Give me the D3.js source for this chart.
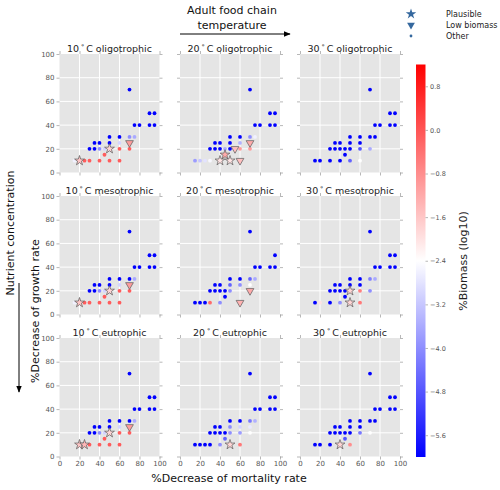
<!DOCTYPE html>
<html><head><meta charset="utf-8">
<script src="https://cdn.jsdelivr.net/npm/d3@7"></script>
<style>body{margin:0;background:#fff}svg{display:block;font-family:"DejaVu Sans",sans-serif}</style>
</head><body><svg id="c" width="500" height="490"></svg>
<script>
// ---------- data ----------
const temperatures = ["10", "20", "30"];
const nutrients = ["oligotrophic", "mesotrophic", "eutrophic"];
const axisTicks = [0, 20, 40, 60, 80, 100];
const colorTicks = [0.8, 0.0, -0.8, -1.6, -2.4, -3.2, -4.0, -4.8, -5.6];
const colorDomain = [-6, 1.2];
const legendLabels = ["Plausible", "Low biomass", "Other"];
// each point: [%decrease mortality, %decrease growth, log10 biomass, type] (o=other, s=plausible, t=low biomass)
const p10oligo = [[70,70,-6,"o"],[90,50,-6,"o"],[95,50,-6,"o"],[75,40,-6,"o"],[80,40,-6,"o"],[90,40,-6,"o"],[95,40,-6,"o"],
  [50,30,-6,"o"],[60,30,-6,"o"],[70,30,-4,"o"],[75,30,-3.6,"o"],[35,25,-6,"o"],[40,25,-6,"o"],[50,25,-6,"o"],[60,25,-3,"o"],
  [30,20,-6,"o"],[35,20,-6,"o"],[40,20,-4,"o"],[45,20,-3,"o"],[60,20,-0.1,"o"],[70,20,-0.1,"o"],[45,15,-0.1,"o"],
  [15,10,-2.6,"o"],[25,10,-0.1,"o"],[30,10,-0.1,"o"],[40,10,-0.1,"o"],[50,10,-0.1,"o"],[60,10,-0.1,"o"],
  [70,25,-1,"t"],[50,20,-1.8,"s"],[20,10,-1.6,"s"]];
const p20oligo = [[70,70,-6,"o"],[90,50,-6,"o"],[95,50,-6,"o"],[75,40,-6,"o"],[80,40,-6,"o"],[90,40,-6,"o"],[95,40,-6,"o"],
  [50,30,-6,"o"],[60,30,-6,"o"],[70,30,-4,"o"],[75,30,-2.6,"o"],[35,25,-6,"o"],[40,25,-6,"o"],[50,25,-6,"o"],[60,25,-3.5,"o"],
  [30,20,-6,"o"],[35,20,-6,"o"],[40,20,-6,"o"],[45,20,-3.6,"o"],[50,20,-6,"o"],[60,20,-1,"o"],[70,20,-1,"o"],
  [15,10,-3.8,"o"],[20,10,-3.2,"o"],[25,10,-2.8,"o"],[30,10,-2.5,"o"],
  [70,25,-1.2,"t"],[55,20,-1.5,"t"],[60,10,-1.5,"t"],[45,15,-1.2,"s"],[40,10,-2,"s"],[50,10,-2,"s"]];
const p30oligo = [[70,70,-6,"o"],[90,50,-6,"o"],[95,50,-6,"o"],[75,40,-6,"o"],[80,40,-6,"o"],[90,40,-6,"o"],[95,40,-6,"o"],
  [50,30,-6,"o"],[60,30,-6,"o"],[70,30,-6,"o"],[75,30,-6,"o"],[35,25,-6,"o"],[40,25,-6,"o"],[50,25,-6,"o"],[60,25,-6,"o"],
  [30,20,-6,"o"],[35,20,-6,"o"],[40,20,-6,"o"],[45,20,-6,"o"],[50,20,-6,"o"],[60,20,-4.8,"o"],[70,20,-3.6,"o"],[45,15,-6,"o"],
  [15,10,-6,"o"],[20,10,-6,"o"],[30,10,-6,"o"],[40,10,-6,"o"],[50,10,-4.6,"o"],[60,10,-2.4,"o"]];
const p10meso = [[70,70,-6,"o"],[90,50,-6,"o"],[95,50,-6,"o"],[75,40,-6,"o"],[80,40,-6,"o"],[90,40,-6,"o"],[95,40,-6,"o"],
  [50,30,-6,"o"],[60,30,-6,"o"],[70,30,-6,"o"],[75,30,-3.6,"o"],[35,25,-6,"o"],[40,25,-6,"o"],[50,25,-6,"o"],[60,25,-3,"o"],
  [30,20,-6,"o"],[35,20,-6,"o"],[40,20,-4,"o"],[45,20,-3,"o"],[60,20,-0.1,"o"],[70,20,-0.1,"o"],[45,15,-0.1,"o"],
  [15,10,-2.6,"o"],[25,10,-0.1,"o"],[30,10,-0.1,"o"],[40,10,-0.1,"o"],[50,10,-0.1,"o"],[60,10,-0.1,"o"],
  [70,25,-1,"t"],[50,20,-1.8,"s"],[20,10,-1.6,"s"]];
const p20meso = [[70,70,-6,"o"],[95,50,-6,"o"],[75,40,-6,"o"],[80,40,-6,"o"],[90,40,-6,"o"],[95,40,-6,"o"],
  [50,30,-6,"o"],[60,30,-6,"o"],[70,30,-4.6,"o"],[75,30,-3.6,"o"],[35,25,-6,"o"],[40,25,-6,"o"],[50,25,-4.6,"o"],[60,25,-4,"o"],[70,25,-2.4,"o"],
  [30,20,-6,"o"],[35,20,-6,"o"],[40,20,-6,"o"],[45,20,-6,"o"],[50,20,-4,"o"],[45,15,-6,"o"],
  [15,10,-6,"o"],[20,10,-6,"o"],[25,10,-6,"o"],[30,10,-0.3,"o"],[40,10,-4,"o"],
  [70,20,-1.2,"t"],[60,10,-1.3,"t"]];
const p30meso = [[70,70,-6,"o"],[90,50,-6,"o"],[95,50,-6,"o"],[75,40,-6,"o"],[80,40,-6,"o"],[90,40,-6,"o"],[95,40,-6,"o"],
  [50,30,-6,"o"],[60,30,-6,"o"],[70,30,-4.2,"o"],[75,30,-3.6,"o"],[35,25,-6,"o"],[40,25,-6,"o"],[50,25,-6,"o"],[60,25,-6,"o"],
  [30,20,-6,"o"],[35,20,-6,"o"],[40,20,-6,"o"],[45,20,-6,"o"],[60,20,-0.6,"o"],[70,20,-4,"o"],[45,15,-6,"o"],
  [15,10,-6,"o"],[20,10,-2,"o"],[30,10,-6,"o"],[40,10,-4,"o"],[60,10,-0.5,"o"],
  [50,20,-1.8,"s"],[50,10,-1.8,"s"]];
const p10eu = [[70,70,-6,"o"],[90,50,-6,"o"],[95,50,-6,"o"],[75,40,-6,"o"],[80,40,-6,"o"],[90,40,-6,"o"],[95,40,-6,"o"],
  [50,30,-6,"o"],[60,30,-6,"o"],[70,30,-6,"o"],[75,30,-3.6,"o"],[35,25,-6,"o"],[40,25,-6,"o"],[50,25,-6,"o"],[60,25,-3,"o"],
  [30,20,-6,"o"],[35,20,-6,"o"],[40,20,-4,"o"],[45,20,-3,"o"],[60,20,-0.1,"o"],[70,20,-0.1,"o"],[45,15,-0.1,"o"],
  [30,10,-0.1,"o"],[40,10,-0.1,"o"],[50,10,-0.1,"o"],[60,10,-0.1,"o"],
  [70,25,-1,"t"],[50,20,-1.8,"s"],[20,10,-1.6,"s"],[25,10,-1.4,"s"]];
const p20eu = [[70,70,-6,"o"],[90,50,-6,"o"],[95,50,-6,"o"],[75,40,-6,"o"],[80,40,-6,"o"],[90,40,-6,"o"],[95,40,-6,"o"],
  [50,30,-6,"o"],[60,30,-6,"o"],[70,30,-4.3,"o"],[75,30,-3.5,"o"],[35,25,-6,"o"],[40,25,-6,"o"],[50,25,-4,"o"],[60,25,-3,"o"],[70,25,-2.7,"o"],
  [30,20,-6,"o"],[35,20,-6,"o"],[40,20,-6,"o"],[45,20,-6,"o"],[50,20,-4,"o"],[60,20,-3.8,"o"],[70,20,-2.4,"o"],[45,15,-4.6,"o"],
  [15,10,-6,"o"],[20,10,-6,"o"],[25,10,-6,"o"],[30,10,-6,"o"],[40,10,-4,"o"],[60,10,-0.5,"o"],
  [50,10,-1.8,"s"]];
const p30eu = [[70,70,-6,"o"],[90,50,-6,"o"],[95,50,-6,"o"],[75,40,-6,"o"],[80,40,-6,"o"],[90,40,-6,"o"],[95,40,-6,"o"],
  [50,30,-6,"o"],[60,30,-6,"o"],[70,30,-6,"o"],[75,30,-6,"o"],[35,25,-6,"o"],[40,25,-6,"o"],[50,25,-6,"o"],[60,25,-6,"o"],
  [30,20,-6,"o"],[35,20,-6,"o"],[40,20,-6,"o"],[45,20,-6,"o"],[50,20,-6,"o"],[60,20,-4.3,"o"],[70,20,-2.4,"o"],[45,15,-4.8,"o"],
  [15,10,-6,"o"],[20,10,-6,"o"],[30,10,-6,"o"],[50,10,-0.8,"o"],
  [40,10,-1.8,"s"]];
const panelData = [[p10oligo, p20oligo, p30oligo], [p10meso, p20meso, p30meso], [p10eu, p20eu, p30eu]];

// ---------- layout ----------
const svg = d3.select("#c");
const colLeft = [59.5, 180, 300], pw = 100;
const rowTop = [54, 196, 338], ph = 118.5;
const bwr = d3.scaleLinear().domain([colorDomain[0], (colorDomain[0]+colorDomain[1])/2, colorDomain[1]])
  .range(["#0000ff", "#ffffff", "#ff0000"]).clamp(true);
const grey = "#555";

const defs = svg.append("defs");
defs.append("marker").attr("id","ah").attr("viewBox","0 0 10 10").attr("refX",9).attr("refY",5)
  .attr("markerWidth",7).attr("markerHeight",7).attr("orient","auto")
  .append("path").attr("d","M0,1 L10,5 L0,9 Z").attr("fill","#000");

const starPath = d3.symbol().type(d3.symbolStar).size(30)();
const triPath = d3.symbol().type(d3.symbolTriangle).size(26)();

panelData.forEach((row, r) => row.forEach((pts, c) => {
  const x = d3.scaleLinear().domain([0, 100]).range([colLeft[c], colLeft[c] + pw]);
  const y = d3.scaleLinear().domain([0, 100]).range([rowTop[r] + ph, rowTop[r]]);
  const g = svg.append("g");
  g.append("rect").attr("x", x(0)).attr("y", y(100)).attr("width", pw).attr("height", ph).attr("fill", "#e5e5e5");
  const inner = axisTicks.filter(t => t > 0 && t < 100);
  g.selectAll(".gx").data(inner).join("line").attr("x1", d => x(d)).attr("x2", d => x(d))
    .attr("y1", y(0)).attr("y2", y(100)).attr("stroke", "#fff").attr("stroke-width", 1);
  g.selectAll(".gy").data(inner).join("line").attr("y1", d => y(d)).attr("y2", d => y(d))
    .attr("x1", x(0)).attr("x2", x(100)).attr("stroke", "#fff").attr("stroke-width", 1);
  // axes (ticks on all sides, outward)
  const fmt = (s) => s.tickSize(3).tickSizeOuter(0).tickPadding(2);
  const ax = [
    [d3.axisBottom(x), `translate(0,${y(0)})`, r === 2],
    [d3.axisTop(x), `translate(0,${y(100)})`, false],
    [d3.axisLeft(y), `translate(${x(0)},0)`, c === 0],
    [d3.axisRight(y), `translate(${x(100)},0)`, false]
  ];
  ax.forEach(([a, tr, lab]) => {
    const gg = g.append("g").attr("transform", tr)
      .call(fmt(a.tickValues(axisTicks)).tickFormat(lab ? d3.format("d") : () => ""));
    gg.select(".domain").remove();
    gg.selectAll("line").attr("stroke", "#888").attr("stroke-width", 0.6);
    gg.selectAll("text").attr("fill", grey).attr("font-size", 7).attr("font-family", "DejaVu Sans");
  });
  // title
  const t = g.append("text").attr("x", x(50)).attr("y", y(100) - 2.5).attr("text-anchor", "middle")
    .attr("font-size", 9.5).attr("fill", "#222");
  t.append("tspan").text(temperatures[c] + "\u2009");
  t.append("tspan").attr("dy", -3).attr("font-size", 6.5).text("°");
  t.append("tspan").attr("dy", 3).text("\u2009C oligotrophic".replace("oligotrophic", nutrients[r]));
  // points
  const others = pts.filter(d => d[3] === "o");
  g.selectAll("circle.p").data(others).join("circle").attr("cx", d => x(d[0])).attr("cy", d => y(d[1]))
    .attr("r", 1.9).attr("fill", d => bwr(d[2]));
  const special = pts.filter(d => d[3] !== "o");
  g.selectAll("path.m").data(special).join("path")
    .attr("d", d => d[3] === "s" ? starPath : triPath)
    .attr("transform", d => `translate(${x(d[0])},${y(d[1])})` + (d[3] === "t" ? " rotate(180)" : ""))
    .attr("fill", d => bwr(d[2])).attr("stroke", "#5a5a5a").attr("stroke-width", 0.7);
}));

// ---------- colorbar ----------
const cbX = 416, cbW = 9.5;
const cy = d3.scaleLinear().domain(colorDomain).range([457, 64.5]);
const grad = defs.append("linearGradient").attr("id", "cbg").attr("x1", 0).attr("x2", 0).attr("y1", 1).attr("y2", 0);
d3.range(0, 1.0001, 0.05).forEach(f => {
  grad.append("stop").attr("offset", f).attr("stop-color", bwr(colorDomain[0] + f * (colorDomain[1] - colorDomain[0])));
});
svg.append("rect").attr("x", cbX).attr("y", cy(colorDomain[1])).attr("width", cbW)
  .attr("height", cy(colorDomain[0]) - cy(colorDomain[1])).attr("fill", "url(#cbg)");
const cax = svg.append("g").attr("transform", `translate(${cbX + cbW},0)`)
  .call(d3.axisRight(cy).tickValues(colorTicks).tickSize(2.5).tickSizeOuter(0).tickPadding(2)
    .tickFormat(d => d3.format(".1f")(d).replace("-", "\u2212")));
cax.select(".domain").remove();
cax.selectAll("line").attr("stroke", "#888").attr("stroke-width", 0.6);
cax.selectAll("text").attr("fill", grey).attr("font-size", 6.5).attr("font-family", "DejaVu Sans");
svg.append("text").attr("transform", "translate(467,261) rotate(-90)").attr("text-anchor", "middle")
  .attr("font-size", 11).attr("fill", "#222").text("%Biomass (log10)");

// ---------- legend ----------
const legColor = "#35689e";
const legY = [14, 25, 36];
const lg = svg.append("g");
lg.append("path").attr("d", d3.symbol().type(d3.symbolStar).size(34)()).attr("transform", `translate(411,${legY[0]})`).attr("fill", legColor);
lg.append("path").attr("d", d3.symbol().type(d3.symbolTriangle).size(26)()).attr("transform", `translate(411,${legY[1]}) rotate(180)`).attr("fill", legColor);
lg.append("circle").attr("cx", 411).attr("cy", legY[2]).attr("r", 1.4).attr("fill", legColor);
lg.selectAll("text").data(legendLabels).join("text").attr("x", 446).attr("y", (d, i) => legY[i] + 3)
  .attr("font-size", 8).attr("fill", "#222").text(d => d);

// ---------- figure labels ----------
svg.append("text").attr("x", 232).attr("y", 14).attr("text-anchor", "middle").attr("font-size", 11).attr("fill", "#111")
  .text("Adult  food chain");
svg.append("text").attr("x", 232).attr("y", 29).attr("text-anchor", "middle").attr("font-size", 11).attr("fill", "#111")
  .text("temperature");
svg.append("line").attr("x1", 180).attr("x2", 290).attr("y1", 34).attr("y2", 34).attr("stroke", "#000").attr("stroke-width", 1)
  .attr("marker-end", "url(#ah)");
svg.append("text").attr("transform", "translate(14,233) rotate(-90)").attr("text-anchor", "middle").attr("font-size", 11)
  .attr("fill", "#111").text("Nutrient concentration");
svg.append("line").attr("x1", 19).attr("x2", 19).attr("y1", 283).attr("y2", 392).attr("stroke", "#000").attr("stroke-width", 1)
  .attr("marker-end", "url(#ah)");
svg.append("text").attr("transform", "translate(39,311) rotate(-90)").attr("text-anchor", "middle").attr("font-size", 11)
  .attr("fill", "#111").text("%Decrease of growth rate");
svg.append("text").attr("x", 229).attr("y", 482).attr("text-anchor", "middle").attr("font-size", 11)
  .attr("fill", "#111").text("%Decrease of mortality rate");
</script></body></html>
